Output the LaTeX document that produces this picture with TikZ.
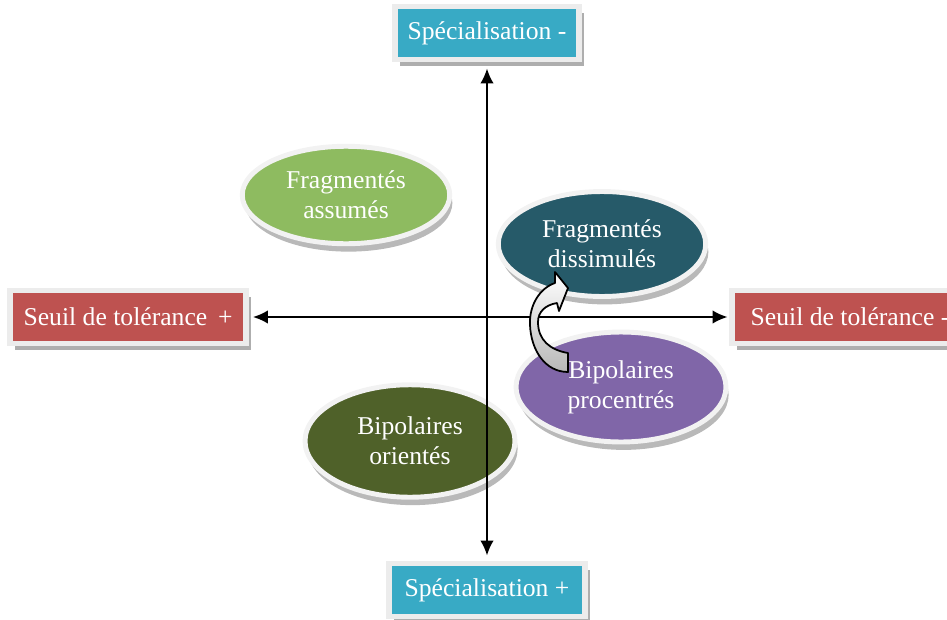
\documentclass[tikz,border=0pt]{standalone}
\usepackage{fontspec}
\setmainfont{Liberation Serif}
\usetikzlibrary{shapes.geometric,shadows,arrows.meta}
\definecolor{boxteal}{RGB}{56, 170, 197}
\definecolor{boxred}{RGB}{190, 82, 80}
\definecolor{framegray}{RGB}{236, 236, 236}
\definecolor{leafgreen}{RGB}{142, 187, 96}
\definecolor{deepteal}{RGB}{38, 90, 105}
\definecolor{lavender}{RGB}{128, 102, 168}
\definecolor{olive}{RGB}{79, 97, 41}

\begin{document}
\begin{tikzpicture}[x=0.02cm, y=-0.02cm,
    every node/.style={font=\fontsize{14.6}{17}\selectfont, text=white, align=center},
    labelbox/.style={rectangle, draw=framegray, line width=3.4pt, minimum height=1.06cm,
        drop shadow={shadow xshift=3pt, shadow yshift=-3.5pt, fill=black!45, opacity=0.7}},
    blob/.style={ellipse, draw=framegray!70!white, line width=2.8pt, inner sep=0pt,
        drop shadow={shadow xshift=1.5pt, shadow yshift=-4.5pt, fill=black!55, opacity=0.5}},
    axis/.style={line width=1.1pt, {Latex[length=3mm,width=2.7mm]}-{Latex[length=3mm,width=2.7mm]}}]
    \useasboundingbox (0,0) rectangle (947,619);
    % Axis labels
    \node[labelbox, fill=boxteal, minimum width=3.68cm] (spec-minus)  at (487, 33)  {Spécialisation -};
    \node[labelbox, fill=boxteal, minimum width=3.92cm] (spec-plus)   at (487, 590) {Spécialisation +};
    \node[labelbox, fill=boxred,  minimum width=4.72cm] (seuil-plus)  at (128, 317) {Seuil de tolérance\, +};
    \node[labelbox, fill=boxred,  minimum width=4.72cm] (seuil-minus) at (850, 317) {Seuil de tolérance -};
    % Groups
    \node[blob, fill=leafgreen, minimum width=4.15cm, minimum height=1.95cm] (frag-assumes) at (346, 195) {Fragmentés\\assumés};
    \node[blob, fill=deepteal,  minimum width=4.15cm, minimum height=2.1cm]  (frag-dissim)  at (602, 244) {Fragmentés\\dissimulés};
    \node[blob, fill=lavender,  minimum width=4.2cm,  minimum height=2.2cm]  (bip-procent)  at (621, 387) {Bipolaires\\procentrés};
    \node[blob, fill=olive,     minimum width=4.2cm,  minimum height=2.25cm] (bip-orient)   at (410, 441) {Bipolaires\\orientés};
    % Axes
    \draw[axis, shorten <=0.12cm, shorten >=0.1cm] (spec-minus.south) -- (spec-plus.north);
    \draw[axis, shorten <=0.08cm, shorten >=0.03cm] (seuil-plus.east) -- (seuil-minus.west);
    % Shift arrow
    \draw[line width=1pt, line join=round, top color=white, middle color=white, bottom color=black!28]
        (568,372) -- (568,353)
        .. controls (550,350) and (538,340) .. (538,322)
        .. controls (538,312) and (545,305) .. (557,303)
        -- (559,311) -- (568,288) -- (555,272) -- (555,283)
        .. controls (540,288) and (529,305) .. (530,325)
        .. controls (531,350) and (545,372) .. (568,372) -- cycle;
\end{tikzpicture}
\end{document}
